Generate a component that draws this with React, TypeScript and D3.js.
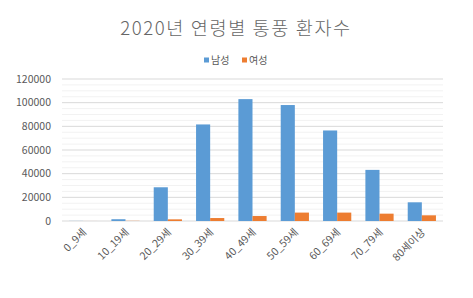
import React from "react";
import * as d3 from "d3";

const categories = ["0_9세", "10_19세", "20_29세", "30_39세", "40_49세", "50_59세", "60_69세", "70_79세", "80세이상"];
const seriesNames = ["남성", "여성"];
const maleValues = [80, 1500, 28500, 81600, 103000, 98000, 76500, 43200, 15800];
const femaleValues = [20, 150, 1400, 2500, 4200, 7100, 7100, 6200, 4800];
const yTicks = [0, 20000, 40000, 60000, 80000, 100000, 120000];
const colors = ["#5B9BD5", "#ED7D31"];

const W = 473, H = 298;
const left = 62, right = 443, top = 79, bottom = 221;
const font = "'Noto Sans CJK KR', 'Noto Sans', sans-serif";

export default function App() {
  const x = d3.scaleBand<string>().domain(categories).range([left, right]).paddingInner(0).paddingOuter(0);
  const y = d3.scaleLinear().domain([0, 120000]).range([bottom, top]);
  const inner = d3.scaleBand<string>().domain(seriesNames).range([0, x.bandwidth()]).paddingOuter(0.5).paddingInner(0);
  const minor = d3.range(0, 120001, 5000).filter((v) => v % 20000 !== 0);
  const series = [maleValues, femaleValues];
  return (
    <svg width={W} height={H} style={{ position: "absolute", left: 0, top: 0, fontFamily: font }}>
      <rect width={W} height={H} fill="#fff" />
      <text x={236} y={35} textAnchor="middle" fontSize={18.6} letterSpacing={1.6} fontWeight={300} fill="#666666">2020년 연령별 통풍 환자수</text>
      {seriesNames.map((s, i) => {
        const lx = [204, 242][i];
        return (
          <g key={s}>
            <rect x={lx} y={57.5} width={5} height={5} fill={colors[i]} />
            <text x={lx + 7} y={63.5} fontSize={10} fill="#595959">{s}</text>
          </g>
        );
      })}
      {minor.map((v) => (
        <line key={"m" + v} x1={left} x2={right} y1={y(v)} y2={y(v)} stroke="#F2F2F2" strokeWidth={1} />
      ))}
      {yTicks.map((v) => (
        <g key={v}>
          <line x1={left} x2={right} y1={y(v)} y2={y(v)} stroke="#D9D9D9" strokeWidth={1} />
          <text x={51} y={y(v) + 3.8} textAnchor="end" fontSize={10.5} fill="#595959">{v}</text>
        </g>
      ))}
      {series.map((vals, si) =>
        vals.map((v, ci) => {
          const bx = (x(categories[ci]) as number) + (inner(seriesNames[si]) as number);
          return (
            <rect key={si + "-" + ci} x={bx} y={y(v)} width={inner.bandwidth()} height={bottom - y(v)}
              fill={colors[si]} />
          );
        })
      )}
      {categories.map((c) => {
        const cx = (x(c) as number) + x.bandwidth() / 2;
        return (
          <text key={c} transform={`translate(${cx + 4},${233}) rotate(-45)`} textAnchor="end" fontSize={10.5} fill="#595959">{c}</text>
        );
      })}
    </svg>
  );
}
